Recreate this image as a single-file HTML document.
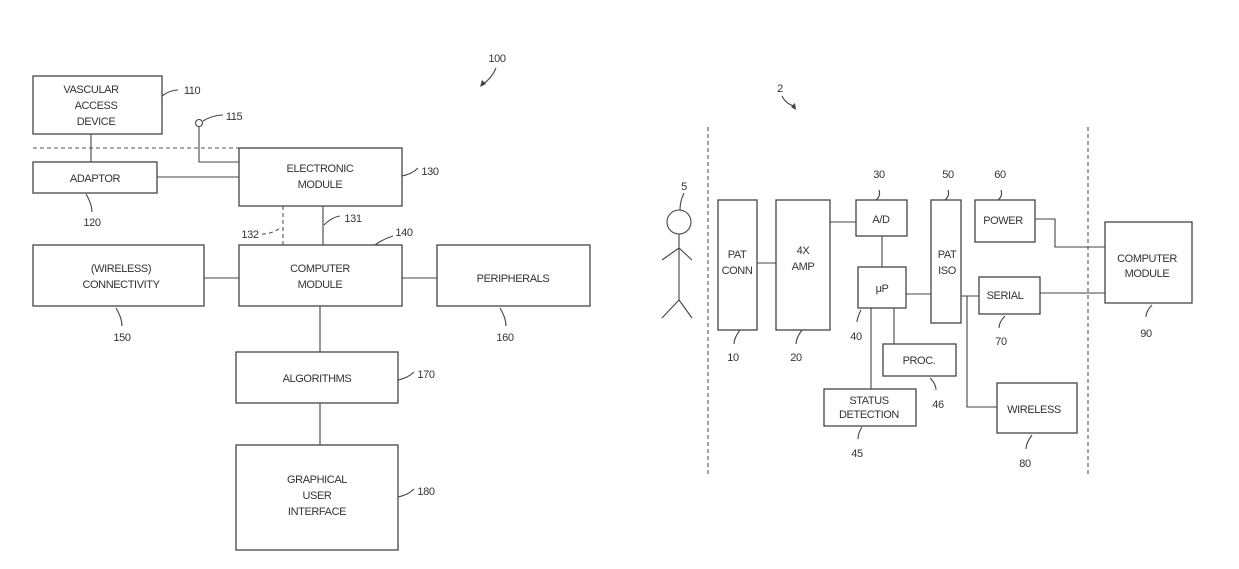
<!DOCTYPE html>
<html><head><meta charset="utf-8"><style>
html,body{margin:0;padding:0;background:#fff;}
svg{display:block}
text{font-family:"Liberation Sans Narrow","Liberation Sans",sans-serif;font-size:11px;letter-spacing:-0.4px;fill:#333;text-anchor:middle}
.b{fill:none;stroke:#444;stroke-width:1.3}
.l{fill:none;stroke:#444;stroke-width:1.1}
.d{fill:none;stroke:#555;stroke-width:1.1;stroke-dasharray:4 3}
</style></head><body>
<svg width="1239" height="569" viewBox="0 0 1239 569">
<!-- LEFT -->
<rect class="b" x="33" y="76" width="129" height="58"/>
<text x="91" y="93">VASCULAR</text><text x="96" y="109">ACCESS</text><text x="96" y="125">DEVICE</text>
<path class="l" d="M162 96 q8 -6 16 -6"/><text x="192" y="94">110</text>
<line class="d" x1="33" y1="148" x2="239" y2="148"/>
<line class="l" x1="91" y1="134" x2="91" y2="162"/>
<rect class="b" x="33" y="162" width="124" height="31"/>
<text x="95" y="182">ADAPTOR</text>
<path class="l" d="M86 194 q6 10 6 18"/><text x="92" y="226">120</text>
<line class="l" x1="157" y1="177" x2="239" y2="177"/>
<circle class="l" cx="199" cy="123" r="3.5"/>
<path class="l" d="M199 127 V162 H239"/>
<path class="l" d="M203 121 q10 -6 20 -6"/><text x="234" y="120">115</text>
<rect class="b" x="239" y="148" width="163" height="58"/>
<text x="320" y="172">ELECTRONIC</text><text x="320" y="188">MODULE</text>
<path class="l" d="M402 176 q10 -2 16 -8"/><text x="430" y="175">130</text>
<line class="d" x1="283" y1="206" x2="283" y2="245"/>
<line class="l" x1="323" y1="206" x2="323" y2="245"/>
<path class="l" d="M324 225 q8 -8 16 -9"/><text x="353" y="222">131</text>
<path class="d" d="M262 234 q10 0 18 -6"/><text x="250" y="238">132</text>
<path class="l" d="M375 245 q8 -6 18 -9"/><text x="404" y="236">140</text>
<rect class="b" x="239" y="245" width="163" height="61"/>
<text x="320" y="272">COMPUTER</text><text x="320" y="288">MODULE</text>
<rect class="b" x="33" y="245" width="171" height="61"/>
<text x="121" y="272">(WIRELESS)</text><text x="121" y="288">CONNECTIVITY</text>
<line class="l" x1="204" y1="278" x2="239" y2="278"/>
<path class="l" d="M116 308 q6 10 6 18"/><text x="122" y="341">150</text>
<rect class="b" x="437" y="245" width="153" height="61"/>
<text x="513" y="282">PERIPHERALS</text>
<line class="l" x1="402" y1="278" x2="437" y2="278"/>
<path class="l" d="M500 308 q6 10 6 18"/><text x="505" y="341">160</text>
<line class="l" x1="320" y1="306" x2="320" y2="352"/>
<rect class="b" x="236" y="352" width="162" height="51"/>
<text x="317" y="382">ALGORITHMS</text>
<path class="l" d="M398 380 q10 -2 16 -8"/><text x="426" y="378">170</text>
<line class="l" x1="320" y1="403" x2="320" y2="445"/>
<rect class="b" x="236" y="445" width="162" height="105"/>
<text x="317" y="483">GRAPHICAL</text><text x="317" y="499">USER</text><text x="317" y="515">INTERFACE</text>
<path class="l" d="M398 497 q10 -2 16 -8"/><text x="426" y="495">180</text>
<text x="497" y="62">100</text>
<path class="l" d="M496 68 q-4 10 -14 17"/><path d="M480 87 l2 -7 l4 4z" fill="#444"/>
<!-- RIGHT -->
<text x="780" y="92">2</text>
<path class="l" d="M782 96 q4 8 12 10"/><path d="M796 110 l-1 -7 l-4 4z" fill="#444"/>
<line class="d" x1="708" y1="127" x2="708" y2="477"/>
<line class="d" x1="1088" y1="127" x2="1088" y2="477"/>
<circle class="l" cx="679" cy="222" r="12"/>
<path class="l" d="M679 234 V300 M679 248 L662 260 M679 248 L692 260 M679 300 L662 318 M679 300 L692 318"/>
<text x="684" y="190">5</text><path class="l" d="M684 193 q-4 8 -4 17"/>
<rect class="b" x="718" y="200" width="39" height="130"/>
<text x="737" y="258">PAT</text><text x="737" y="274">CONN</text>
<path class="l" d="M740 330 q-6 8 -6 14"/><text x="733" y="361">10</text>
<line class="l" x1="757" y1="263" x2="776" y2="263"/>
<rect class="b" x="776" y="200" width="54" height="130"/>
<text x="803" y="254">4X</text><text x="803" y="270">AMP</text>
<path class="l" d="M802 330 q-6 8 -6 14"/><text x="796" y="361">20</text>
<line class="l" x1="830" y1="222" x2="856" y2="222"/>
<rect class="b" x="856" y="200" width="51" height="36"/>
<text x="881" y="223">A/D</text>
<path class="l" d="M879 190 q2 6 -3 10"/><text x="879" y="178">30</text>
<line class="l" x1="882" y1="236" x2="882" y2="267"/>
<rect class="b" x="858" y="267" width="48" height="41"/>
<text x="882" y="292">μP</text>
<path class="l" d="M861 310 q-4 8 -4 12"/><text x="856" y="340">40</text>
<line class="l" x1="906" y1="294" x2="931" y2="294"/>
<line class="l" x1="894" y1="308" x2="894" y2="344"/>
<rect class="b" x="883" y="344" width="73" height="32"/>
<text x="919" y="364">PROC.</text>
<path class="l" d="M930 378 q6 6 6 12"/><text x="938" y="408">46</text>
<line class="l" x1="871" y1="308" x2="871" y2="389"/>
<rect class="b" x="824" y="389" width="92" height="37"/>
<text x="869" y="404">STATUS</text><text x="869" y="418">DETECTION</text>
<path class="l" d="M862 427 q-4 6 -4 12"/><text x="857" y="457">45</text>
<rect class="b" x="931" y="200" width="30" height="123"/>
<text x="947" y="258">PAT</text><text x="947" y="274">ISO</text>
<path class="l" d="M948 190 q2 6 -3 10"/><text x="948" y="178">50</text>
<rect class="b" x="975" y="200" width="60" height="42"/>
<text x="1003" y="224">POWER</text>
<path class="l" d="M1001 190 q2 6 -3 10"/><text x="1000" y="178">60</text>
<path class="l" d="M1035 219 H1055 V247 H1105"/>
<line class="l" x1="961" y1="296" x2="979" y2="296"/>
<path class="l" d="M967 296 V407 H997"/>
<rect class="b" x="979" y="277" width="61" height="37"/>
<text x="1005" y="299">SERIAL</text>
<path class="l" d="M1005 316 q-6 6 -6 12"/><text x="1001" y="345">70</text>
<line class="l" x1="1040" y1="293" x2="1105" y2="293"/>
<rect class="b" x="997" y="383" width="80" height="50"/>
<text x="1034" y="413">WIRELESS</text>
<path class="l" d="M1032 435 q-6 8 -6 14"/><text x="1025" y="467">80</text>
<rect class="b" x="1105" y="222" width="87" height="81"/>
<text x="1147" y="262">COMPUTER</text><text x="1147" y="277">MODULE</text>
<path class="l" d="M1152 305 q-6 6 -6 12"/><text x="1146" y="337">90</text>
</svg>
</body></html>
